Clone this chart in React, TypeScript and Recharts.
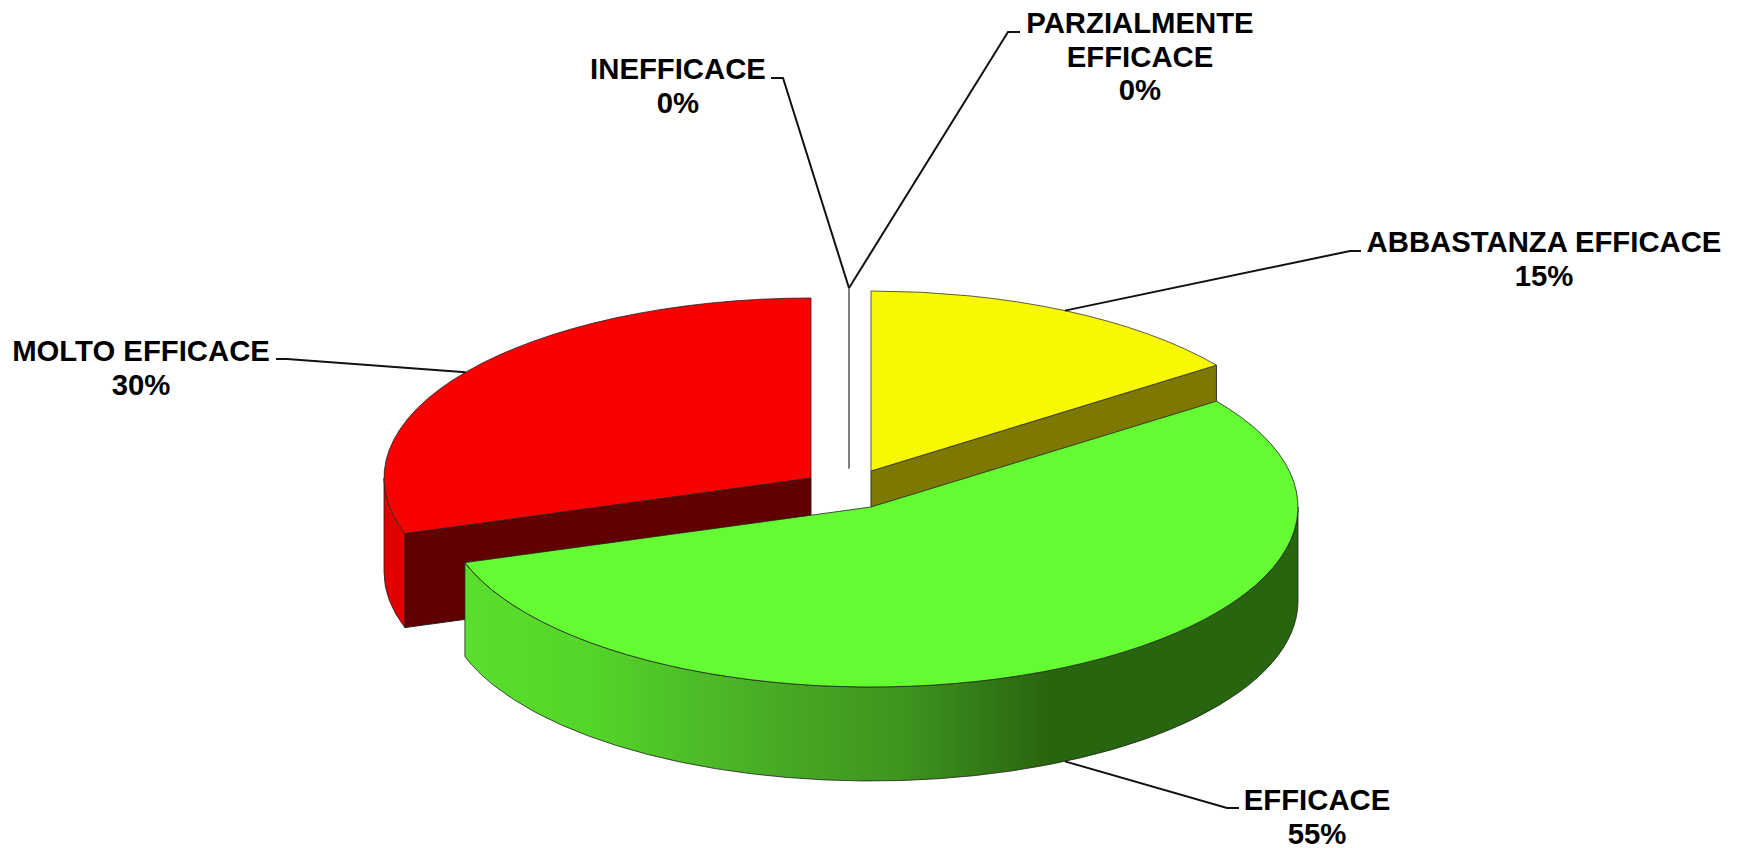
import { PieChart, Pie } from 'recharts';

const CATEGORIES = ['MOLTO EFFICACE', 'INEFFICACE', 'PARZIALMENTE EFFICACE', 'ABBASTANZA EFFICACE', 'EFFICACE'];
const VALUES = [30, 0, 0, 15, 55];

const data = CATEGORIES.map((name, i) => ({ name, value: VALUES[i] }));

const WIDTH = 1742;
const HEIGHT = 848;
const CX = 871;
const CY = 507;
const RX = 427;
const RY = 180;
const DEPTH = 94;

// colori: faccia superiore, taglio, parete esterna
const STYLES: Record<string, { top: string; cut: string; wall: string; stroke: string }> = {
  'MOLTO EFFICACE': { top: '#FA0000', cut: '#600000', wall: '#E00000', stroke: '#222' },
  INEFFICACE: { top: '#FFFFFF', cut: '#FFFFFF', wall: '#FFFFFF', stroke: '#777' },
  'PARZIALMENTE EFFICACE': { top: '#FFFFFF', cut: '#FFFFFF', wall: '#FFFFFF', stroke: '#777' },
  'ABBASTANZA EFFICACE': { top: '#F8F800', cut: '#7C7800', wall: '#7C7800', stroke: '#333' },
  EFFICACE: { top: '#64FB32', cut: '#286410', wall: 'url(#greenWall)', stroke: '#222' },
};

// spostamento delle fette esplose
const EXPLODE: Record<string, [number, number]> = {
  'MOLTO EFFICACE': [-60, -29],
  INEFFICACE: [-22, -39],
  'PARZIALMENTE EFFICACE': [-22, -39],
  'ABBASTANZA EFFICACE': [0, -36],
  EFFICACE: [0, 0],
};

// posizione delle etichette e gomito della linea guida
const LABELS: Record<string, { x: number; y: number; lines: string[]; knee: [number, number]; end: [number, number] }> = {
  'MOLTO EFFICACE': { x: 141, y: 361, lines: ['MOLTO EFFICACE'], knee: [287, 359], end: [276, 359] },
  INEFFICACE: { x: 678, y: 79, lines: ['INEFFICACE'], knee: [783, 78], end: [771, 78] },
  'PARZIALMENTE EFFICACE': { x: 1140, y: 33, lines: ['PARZIALMENTE', 'EFFICACE'], knee: [1008, 32], end: [1020, 32] },
  'ABBASTANZA EFFICACE': { x: 1544, y: 252, lines: ['ABBASTANZA EFFICACE'], knee: [1350, 251], end: [1361, 251] },
  EFFICACE: { x: 1317, y: 810, lines: ['EFFICACE'], knee: [1227, 808], end: [1239, 808] },
};

const rad = (deg: number) => (deg * Math.PI) / 180;
const edge = (x: number, y: number, theta: number) => [x + RX * Math.sin(rad(theta)), y - RY * Math.cos(rad(theta))];

function Slice3D(props: any) {
  const name = props.name ?? props.payload?.name;
  const style = STYLES[name];
  const [dx, dy] = EXPLODE[name];
  const x = CX + dx;
  const y = CY + dy;
  // angoli in senso orario a partire dalle 12
  const a = (90 - props.startAngle) % 360;
  const b = a + Math.abs(props.endAngle - props.startAngle);
  const [ax, ay] = edge(x, y, a);
  const [bx, by] = edge(x, y, b);
  const large = b - a > 180 ? 1 : 0;

  const faces = [];
  if (Math.sin(rad(a)) < -0.001) {
    faces.push(`M${x},${y} L${ax},${ay} L${ax},${ay + DEPTH} L${x},${y + DEPTH} Z`);
  }
  if (Math.sin(rad(b)) > 0.001) {
    faces.push(`M${x},${y} L${bx},${by} L${bx},${by + DEPTH} L${x},${y + DEPTH} Z`);
  }

  const wa = Math.max(a, 90);
  const wb = Math.min(b, 270);
  let wall = null;
  if (wb > wa) {
    const [x1, y1] = edge(x, y, wa);
    const [x2, y2] = edge(x, y, wb);
    wall =
      `M${x1},${y1} A${RX},${RY} 0 0 1 ${x2},${y2} L${x2},${y2 + DEPTH} ` +
      `A${RX},${RY} 0 0 0 ${x1},${y1 + DEPTH} Z`;
  }

  return (
    <g>
      {faces.map((d) => (
        <path key={d} d={d} fill={style.cut} stroke={style.stroke} strokeWidth={1} strokeLinejoin="round" />
      ))}
      {wall && <path d={wall} fill={style.wall} stroke={style.stroke} strokeWidth={0.8} strokeLinejoin="round" />}
      <path
        d={`M${x},${y} L${ax},${ay} A${RX},${RY} 0 ${large} 1 ${bx},${by} Z`}
        fill={style.top}
        stroke={style.stroke}
        strokeWidth={style.top === '#FFFFFF' ? 1.5 : 0.8}
        strokeLinejoin="round"
      />
    </g>
  );
}

function SliceLabel(props: any) {
  const name = props.name ?? props.payload?.name;
  const layout = LABELS[name];
  const [dx, dy] = EXPLODE[name];
  const theta = (90 - props.midAngle + 720) % 360;
  const [sx, sy0] = edge(CX + dx, CY + dy, theta);
  const sy = theta > 90 && theta < 270 ? sy0 + DEPTH : sy0;
  const rows = [...layout.lines, `${props.value}%`];
  return (
    <g>
      <polyline
        points={`${sx},${sy} ${layout.knee.join(',')} ${layout.end.join(',')}`}
        fill="none"
        stroke="#111"
        strokeWidth={2}
      />
      <text
        textAnchor="middle"
        fontFamily="Liberation Sans"
        fontWeight="bold"
        fontSize={29.3}
        fill="#000"
      >
        {rows.map((row, i) => (
          <tspan key={row} x={layout.x} y={layout.y + i * 33.7}>
            {row}
          </tspan>
        ))}
      </text>
    </g>
  );
}

export default function App() {
  return (
    <div style={{ position: 'absolute', left: 0, top: 0, width: WIDTH, height: HEIGHT }}>
      <PieChart width={WIDTH} height={HEIGHT} margin={{ top: 0, right: 0, bottom: 0, left: 0 }}>
        <defs>
          <linearGradient id="greenWall" x1="0" y1="0" x2="1" y2="0">
            <stop offset="0" stopColor="#5ADF2D" />
            <stop offset="0.15" stopColor="#54D52A" />
            <stop offset="0.38" stopColor="#47A924" />
            <stop offset="0.52" stopColor="#3F951F" />
            <stop offset="0.7" stopColor="#28650F" />
            <stop offset="1" stopColor="#28650F" />
          </linearGradient>
        </defs>
        <Pie
          data={data}
          dataKey="value"
          nameKey="name"
          cx={CX}
          cy={CY}
          outerRadius={RX}
          startAngle={-162}
          endAngle={-522}
          stroke="none"
          isAnimationActive={false}
          shape={Slice3D}
          label={SliceLabel}
          labelLine={false}
        />
      </PieChart>
    </div>
  );
}
